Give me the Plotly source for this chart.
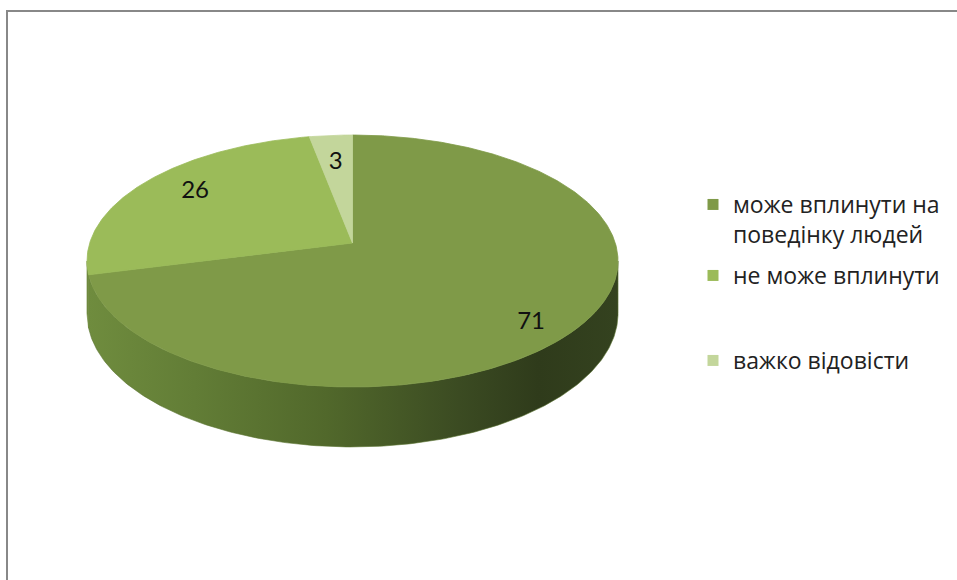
import numpy as np
import plotly.graph_objects as go

# ---------------- data ----------------
categories = ["може вплинути на<br>поведінку людей", "не може вплинути", "важко відовісти"]
values = [71, 26, 3]
labels = ["71", "26", "3"]

# ---------------- style ----------------
top_colors = ["#7F9A48", "#9BBB59", "#C3D69B"]
side_colors = ["#5A7430", "#6E8A3D", "#93A675"]
side_gradient_71 = [[0.0, "#6F8C3E"], [0.2, "#627D36"], [0.45, "#51682B"],
                    [0.7, "#3B4B22"], [0.85, "#2F3B1B"], [1.0, "#34421F"]]
label_r = [0.8, 0.75, 0.75]
label_dy = [15, -4, 3]
FONT = "Lato"
LEG_FONT = "Open Sans"

W, H_PX = 957, 580
# projection parameters (perspective view of a tilted disc), in pixel units
CX, CY = 352.5, 243.0
A, B, K = 262.8, 123.4, 0.1429
DEPTH = 51.4


def proj(theta_deg, r=1.0, drop=0.0):
    t = np.radians(theta_deg)
    u = r * np.sin(t)
    w = r * np.cos(t)
    s = 1.0 / (1.0 + K * w)
    return CX + A * u * s, CY - B * w * s + drop * s


total = float(sum(values))
bounds = np.concatenate([[0.0], np.cumsum(values) / total * 360.0])

fig = go.Figure()

# side walls (visible front part only)
th_r = np.degrees(np.arccos(-K))
th_l = 360.0 - th_r
for i in range(len(values)):
    lo, hi = max(bounds[i], th_r), min(bounds[i + 1], th_l)
    if hi <= lo:
        continue
    th = np.linspace(lo, hi, 200)
    xt, yt = proj(th)
    xb, yb = proj(th[::-1], drop=DEPTH)
    xs = np.concatenate([xt, xb, xt[:1]])
    ys = np.concatenate([yt, yb, yt[:1]])
    kw = dict(fillcolor=side_colors[i])
    if i == 0:
        kw = dict(fillgradient=dict(type="horizontal", colorscale=side_gradient_71))
    fig.add_trace(go.Scatter(x=xs, y=ys, mode="lines", fill="toself",
                             line=dict(width=0.6, color=side_colors[i]),
                             hoverinfo="skip", showlegend=False, **kw))

# top faces
for i in range(len(values)):
    th = np.linspace(bounds[i], bounds[i + 1], max(int((bounds[i + 1] - bounds[i]) * 2), 10))
    xa, ya = proj(th)
    xs = np.concatenate([[CX], xa, [CX]])
    ys = np.concatenate([[CY], ya, [CY]])
    fig.add_trace(go.Scatter(x=xs, y=ys, mode="lines", fill="toself",
                             fillcolor=top_colors[i],
                             line=dict(width=0.8, color=top_colors[i]),
                             hoverinfo="skip", showlegend=False))

# data labels
lx, ly = [], []
for i in range(len(values)):
    mid = (bounds[i] + bounds[i + 1]) / 2
    x, y = proj(mid, r=label_r[i])
    lx.append(x)
    ly.append(y + label_dy[i])
fig.add_trace(go.Scatter(x=lx, y=ly, mode="text", text=labels,
                         textfont=dict(family=FONT, size=24, color="#111111"),
                         hoverinfo="skip", showlegend=False))

# legend entries
legend_names = ["legend", "legend2", "legend3"]
for i, cat in enumerate(categories):
    fig.add_trace(go.Scatter(x=[None], y=[None], mode="markers", name=cat,
                             marker=dict(symbol="square", size=11, color=top_colors[i]),
                             legend=legend_names[i]))

legend_tops = [183, 254, 339]
leg_common = dict(font=dict(family=LEG_FONT, size=23, color="#222222"),
                  bgcolor="rgba(0,0,0,0)", borderwidth=0, xanchor="left",
                  yanchor="top", valign="top", itemclick=False, itemdoubleclick=False)

fig.update_layout(
    width=W, height=H_PX,
    margin=dict(l=0, r=0, t=0, b=0),
    paper_bgcolor="white", plot_bgcolor="white",
    xaxis=dict(range=[0, W], visible=False, fixedrange=True, domain=[0, 1]),
    yaxis=dict(range=[H_PX, 0], visible=False, fixedrange=True, domain=[0, 1]),
    legend=dict(x=693 / W, y=1 - legend_tops[0] / H_PX, **leg_common),
    legend2=dict(x=693 / W, y=1 - legend_tops[1] / H_PX, **leg_common),
    legend3=dict(x=693 / W, y=1 - legend_tops[2] / H_PX, **leg_common),
    shapes=[dict(type="rect", xref="x", yref="y", x0=7, y0=11, x1=W + 50, y1=H_PX + 50,
                 line=dict(color="#888888", width=2), fillcolor="rgba(0,0,0,0)", layer="above")],
)

fig.write_html("out.html")
